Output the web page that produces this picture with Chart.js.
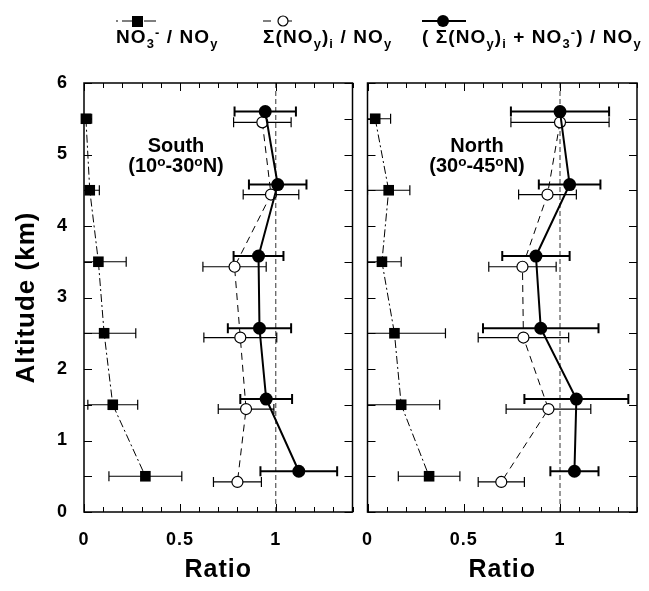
<!DOCTYPE html>
<html>
<head>
<meta charset="utf-8">
<script src="https://cdn.jsdelivr.net/npm/chart.js@4/dist/chart.umd.min.js"></script>
<style>
  body { margin: 0; background: #fff; }
  #wrap { position: relative; width: 649px; height: 591px; overflow: hidden;
          font-family: "Liberation Sans", Arial, sans-serif; font-weight: bold; color: #000; }
  canvas { position: absolute; top: 0; }
  .lg { position: absolute; top: 27px; font-size: 19px; line-height: 1; white-space: nowrap; letter-spacing: 1.1px; }
  .sym { position: absolute; top: 13px; }
  .region { position: absolute; top: 135px; font-size: 20px; line-height: 20px; text-align: center; width: 140px; }
  sub { font-size: 68%; position: relative; top: 0.35em; vertical-align: baseline; line-height: 0; }
  sup { font-size: 68%; position: relative; top: -0.45em; vertical-align: baseline; line-height: 0; }
</style>
</head>
<body>
<div id="wrap">
  <canvas id="south" width="360" height="591" style="left:0"></canvas>
  <canvas id="north" width="289" height="591" style="left:360px"></canvas>

  <svg class="sym" style="left:114px" width="48" height="16">
    <line x1="2" y1="8" x2="46" y2="8" stroke="#000" stroke-width="1.2" stroke-dasharray="2,4,12,4"/>
    <rect x="18" y="3" width="11" height="11" fill="#000"/>
  </svg>
  <div class="lg" style="left:116px">NO<sub>3</sub><sup>-</sup> / NO<sub>y</sub></div>

  <svg class="sym" style="left:261px" width="44" height="16">
    <line x1="2" y1="8" x2="42" y2="8" stroke="#000" stroke-width="1.2" stroke-dasharray="8,13"/>
    <circle cx="22" cy="8" r="5" fill="#fff" stroke="#000" stroke-width="1.2"/>
  </svg>
  <div class="lg" style="left:263px">&Sigma;(NO<sub>y</sub>)<sub>i</sub> / NO<sub>y</sub></div>

  <svg class="sym" style="left:420px" width="48" height="16">
    <line x1="2" y1="8" x2="46" y2="8" stroke="#000" stroke-width="2"/>
    <circle cx="23" cy="8" r="6" fill="#000"/>
  </svg>
  <div class="lg" style="left:422px">( &Sigma;(NO<sub>y</sub>)<sub>i</sub> + NO<sub>3</sub><sup>-</sup>) / NO<sub>y</sub></div>

  <div class="region" style="left:106px">South<br>(10<sup>o</sup>-30<sup>o</sup>N)</div>
  <div class="region" style="left:407px">North<br>(30<sup>o</sup>-45<sup>o</sup>N)</div>
</div>

<script>
// altitudes (km) for each series, slightly offset as in the figure
const altNo3 = [5.5, 4.5, 3.5, 2.5, 1.5, 0.5];
const altNoyi = [5.45, 4.44, 3.43, 2.44, 1.44, 0.42];
const altSum = [5.6, 4.58, 3.58, 2.57, 1.58, 0.57];

// South (10-30N)
const southNo3 = [0.01, 0.03, 0.075, 0.105, 0.15, 0.32];
const southNo3Err = [0.03, 0.05, 0.145, 0.165, 0.13, 0.19];
const southNoyi = [0.93, 0.975, 0.785, 0.815, 0.845, 0.80];
const southNoyiErr = [0.15, 0.145, 0.165, 0.19, 0.145, 0.125];
const southSum = [0.945, 1.01, 0.91, 0.915, 0.95, 1.12];
const southSumErr = [0.16, 0.15, 0.13, 0.165, 0.135, 0.2];

// North (30-45N)
const northNo3 = [0.04, 0.11, 0.075, 0.14, 0.175, 0.32];
const northNo3Err = [0.08, 0.11, 0.10, 0.265, 0.2, 0.16];
const northNoyi = [1.0, 0.935, 0.805, 0.81, 0.94, 0.695];
const northNoyiErr = [0.255, 0.15, 0.175, 0.235, 0.22, 0.12];
const northSum = [1.0, 1.05, 0.875, 0.9, 1.085, 1.075];
const northSumErr = [0.255, 0.16, 0.175, 0.3, 0.27, 0.125];

const xTicks = [0, 0.5, 1];
const yTicks = [0, 1, 2, 3, 4, 5, 6];

Chart.defaults.font.family = '"Liberation Sans", Arial, sans-serif';
Chart.defaults.color = '#000';

function pts(xs, ys) {
  return xs.map((v, i) => ({ x: v, y: ys[i] }));
}

// slightly wider lettering, like the original figure
const spacing = {
  id: 'spacing',
  beforeDraw(chart) { chart.ctx.letterSpacing = '1px'; }
};

// horizontal error bars + reference line at ratio = 1
const errBars = {
  id: 'errBars',
  beforeDatasetsDraw(chart) {
    const { ctx, chartArea: a, scales: { x, y } } = chart;
    ctx.save();
    ctx.beginPath();
    ctx.rect(a.left, a.top, a.right - a.left, a.bottom - a.top);
    ctx.clip();
    const px = x.getPixelForValue(1);
    ctx.strokeStyle = '#333';
    ctx.lineWidth = 1;
    ctx.setLineDash([5, 3]);
    ctx.beginPath();
    ctx.moveTo(px, a.top);
    ctx.lineTo(px, a.bottom);
    ctx.stroke();
    ctx.setLineDash([]);
    ctx.strokeStyle = '#000';
    chart.data.datasets.forEach(ds => {
      ctx.lineWidth = ds.errWidth;
      ds.data.forEach((p, i) => {
        const e = ds.err[i];
        const x1 = x.getPixelForValue(p.x - e);
        const x2 = x.getPixelForValue(p.x + e);
        const py = y.getPixelForValue(p.y);
        ctx.beginPath();
        ctx.moveTo(x1, py); ctx.lineTo(x2, py);
        ctx.moveTo(x1, py - 5); ctx.lineTo(x1, py + 5);
        ctx.moveTo(x2, py - 5); ctx.lineTo(x2, py + 5);
        ctx.stroke();
      });
    });
    ctx.restore();
  }
};

// box frame with inward ticks on all sides
const frame = {
  id: 'frame',
  afterDraw(chart) {
    const { ctx, chartArea: a, scales: { x, y } } = chart;
    ctx.save();
    ctx.strokeStyle = '#000';
    ctx.lineWidth = 1.5;
    ctx.strokeRect(a.left, a.top, a.right - a.left, a.bottom - a.top);
    ctx.lineWidth = 1;
    ctx.beginPath();
    for (let k = 0; k <= 14; k++) {
      const px = Math.round(x.getPixelForValue(k / 10)) + 0.5;
      const len = k % 5 === 0 ? 8 : 5;
      ctx.moveTo(px, a.bottom); ctx.lineTo(px, a.bottom - len);
      ctx.moveTo(px, a.top); ctx.lineTo(px, a.top + len);
    }
    for (let k = 0; k <= 12; k++) {
      const py = Math.round(y.getPixelForValue(k / 2)) + 0.5;
      ctx.moveTo(a.left, py); ctx.lineTo(a.left + 8, py);
      ctx.moveTo(a.right, py); ctx.lineTo(a.right - 8, py);
    }
    ctx.stroke();
    ctx.restore();
  }
};

function makePanel(id, no3, no3Err, noyi, noyiErr, sum, sumErr, showY, pad) {
  new Chart(document.getElementById(id), {
    type: 'scatter',
    data: {
      datasets: [
        {
          label: '(Σ(NOy)i + NO3-) / NOy',
          data: pts(sum, altSum), err: sumErr, errWidth: 2,
          showLine: true, borderColor: '#000', borderWidth: 2,
          pointStyle: 'circle', pointRadius: 6.5, backgroundColor: '#000', pointBorderWidth: 0,
          clip: false
        },
        {
          label: 'Σ(NOy)i / NOy',
          data: pts(noyi, altNoyi), err: noyiErr, errWidth: 1.2,
          showLine: true, borderColor: '#000', borderWidth: 1, borderDash: [7, 5],
          pointStyle: 'circle', pointRadius: 5.5, backgroundColor: '#fff', pointBorderColor: '#000', pointBorderWidth: 1.2,
          clip: false
        },
        {
          label: 'NO3- / NOy',
          data: pts(no3, altNo3), err: no3Err, errWidth: 1.2,
          showLine: true, borderColor: '#000', borderWidth: 1, borderDash: [8, 3, 2, 3],
          pointStyle: 'rect', pointRadius: 7.5, backgroundColor: '#000', pointBorderWidth: 0,
          clip: false
        }
      ]
    },
    options: {
      responsive: false,
      animation: false,
      layout: { padding: pad },
      plugins: { legend: { display: false }, tooltip: { enabled: false } },
      scales: {
        x: {
          type: 'linear', min: 0, max: 1.4,
          afterBuildTicks: s => { s.ticks = xTicks.map(v => ({ value: v })); },
          afterFit: s => { s.height = 79; s.paddingLeft = 0; s.paddingRight = 0; },
          grid: { display: false, drawTicks: false },
          border: { display: false },
          ticks: { font: { size: 18, weight: 'bold' }, padding: 17, maxRotation: 0, callback: v => String(v) },
          title: { display: true, text: 'Ratio', font: { size: 25, weight: 'bold' }, padding: { top: 0, bottom: 6 } }
        },
        y: {
          type: 'linear', min: 0, max: 6, display: showY,
          afterBuildTicks: s => { s.ticks = yTicks.map(v => ({ value: v })); },
          afterFit: s => { s.width = showY ? 84 : 0; s.paddingTop = 0; s.paddingBottom = 0; },
          grid: { display: false, drawTicks: false },
          border: { display: false },
          ticks: { font: { size: 18, weight: 'bold' }, padding: 16 },
          title: { display: true, text: 'Altitude (km)', font: { size: 26, weight: 'bold' }, padding: { top: 11, bottom: 0 } }
        }
      }
    },
    plugins: [spacing, errBars, frame]
  });
}

makePanel('south', southNo3, southNo3Err, southNoyi, southNoyiErr, southSum, southSumErr, true,
  { top: 83, right: 7, left: 0, bottom: 0 });
makePanel('north', northNo3, northNo3Err, northNoyi, northNoyiErr, northSum, northSumErr, false,
  { top: 83, right: 12, left: 7, bottom: 0 });
</script>
</body>
</html>
